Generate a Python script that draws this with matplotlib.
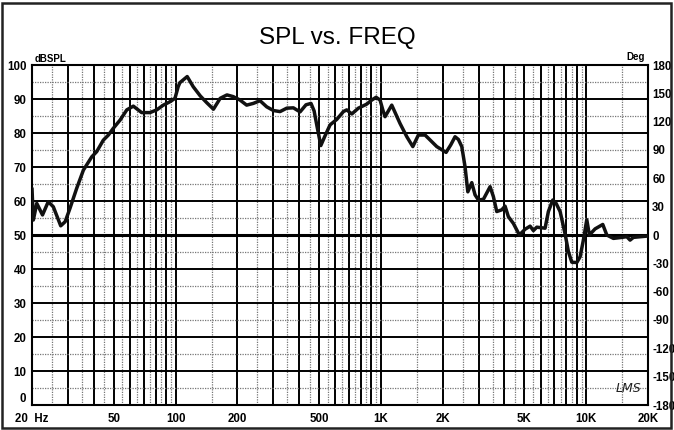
import numpy as np
import matplotlib
matplotlib.use("Agg")
import matplotlib.pyplot as plt
from matplotlib.patches import Rectangle

# SPL curve (Hz, dB SPL)
freq = [20, 20.3, 21.1, 22.5, 24.0, 25.4, 27.6, 29.0, 30.6, 33.0, 35.6, 39.1,
        41.3, 44.5, 47.1, 49.8, 53.7, 57.9, 62.3, 68.4, 75.1, 81.0, 87.2, 94.0,
        99.4, 103, 105, 114, 122, 132, 142, 153, 165, 178, 191, 206, 222, 239,
        258, 278, 300, 323, 348, 375, 404, 432, 457, 473, 489, 510, 535, 566,
        610, 657, 682, 722, 777, 854, 903, 948, 991, 1022, 1048, 1130, 1240,
        1338, 1431, 1523, 1642, 1872, 2078, 2190, 2298, 2386, 2478, 2570, 2652,
        2772, 2876, 2986, 3158, 3404, 3532, 3668, 3880, 4026, 4178, 4420, 4728,
        5040, 5332, 5532, 5746, 6306, 6544, 6878, 7138, 7464, 7894, 8192, 8510,
        9000, 9340, 9690, 10066, 10364, 11050, 12044, 12600, 13568, 14912,
        15770, 16360, 16980, 20000]
spl = [63.7, 54.4, 59.3, 55.9, 59.8, 58.3, 52.7, 53.9, 57.8, 63.7, 69.1, 73.0,
       74.5, 77.9, 79.4, 81.4, 83.8, 86.8, 87.9, 86.0, 86.0, 86.8, 88.2, 89.2,
       90.2, 93.6, 94.8, 96.6, 93.6, 90.9, 88.9, 87.0, 90.2, 91.2, 90.7, 89.7,
       88.2, 88.7, 89.5, 87.7, 86.6, 86.3, 87.3, 87.4, 86.2, 88.3, 88.7, 86.5,
       81.9, 76.3, 79.2, 82.4, 84.0, 86.3, 86.8, 85.6, 87.3, 88.5, 89.7, 90.5,
       89.7, 86.8, 84.8, 88.2, 82.8, 78.9, 76.0, 79.4, 79.4, 76.0, 74.3, 76.5,
       78.9, 78.1, 76.0, 70.1, 62.7, 65.4, 61.8, 60.3, 60.5, 64.2, 61.3, 56.9,
       57.4, 58.5, 55.4, 53.4, 50.0, 51.7, 52.6, 51.3, 52.3, 52.0, 56.9, 60.3,
       59.3, 56.9, 50.3, 45.1, 42.0, 41.9, 43.6, 48.5, 54.5, 50.0, 51.8, 53.1,
       50.0, 49.0, 49.3, 49.5, 48.5, 49.3, 49.7]

xtick_vals = [20, 50, 100, 200, 500, 1000, 2000, 5000, 10000, 20000]
xtick_text = ["20  Hz", "50", "100", "200", "500", "1K", "2K", "5K", "10K", "20K"]
db_ticks = list(range(0, 101, 10))
deg_ticks = list(range(-180, 181, 30))

lab_font = ["Liberation Sans Narrow", "Liberation Sans", "DejaVu Sans"]

fig = plt.figure(figsize=(6.74, 4.30), dpi=100)
ax = fig.add_axes([32/674, 25/430, 616/674, 340/430])

ax.set_xscale("log")
ax.set_xlim(20, 20000)
ax.set_ylim(0, 100)

# grid: solid at integer multiples, dotted at the halves
for dec in [10, 100, 1000, 10000]:
    for m in range(1, 10):
        f = m * dec
        if 20 < f < 20000:
            ax.axvline(f, color="black", lw=1.4, zorder=1)
        fh = (m + 0.5) * dec
        if 20 < fh < 20000:
            ax.axvline(fh, color="#777777", lw=0.9, ls=(0, (1, 1)), zorder=1)
for v in range(5, 100, 10):
    ax.axhline(v, color="#777777", lw=0.9, ls=(0, (1, 1)), zorder=1)
for v in range(10, 100, 10):
    ax.axhline(v, color="black", lw=2.2 if v == 50 else 1.4, zorder=1)

ax.plot(freq, spl, color="#111111", lw=2.5, solid_joinstyle="round",
        solid_capstyle="round", zorder=3)

for s in ax.spines.values():
    s.set_linewidth(1.5)

ax.set_xticks(xtick_vals)
ax.set_xticklabels(xtick_text)
ax.xaxis.set_minor_locator(matplotlib.ticker.NullLocator())
ax.set_yticks(db_ticks)
ax.tick_params(axis="y", length=0, pad=4)
ax.tick_params(axis="x", length=0, pad=6)
for t in ax.get_xticklabels() + ax.get_yticklabels():
    t.set_family(lab_font)
    t.set_fontsize(8.3)
    t.set_fontweight("bold")
# the bottom "0" sits just above the axis line, as in the original
ax.get_yticklabels()[0].set_va("bottom")

ax2 = ax.twinx()
ax2.set_ylim(-180, 180)
ax2.set_yticks(deg_ticks)
ax2.set_yticklabels([str(d) for d in deg_ticks])
ax2.tick_params(length=0, pad=3)
for t in ax2.get_yticklabels():
    t.set_family(lab_font)
    t.set_fontsize(8.3)
    t.set_fontweight("bold")
for s in ax2.spines.values():
    s.set_visible(False)

fig.text(0.5, 392/430, "SPL vs. FREQ", ha="center", va="center",
         fontsize=17.5, family=["Liberation Sans", "DejaVu Sans"])
fig.text(35/674, 371/430, "dBSPL", ha="left", va="center", fontsize=7,
         fontweight="bold", family=lab_font)
fig.text(645/674, 373/430, "Deg", ha="right", va="center", fontsize=7,
         fontweight="bold", family=lab_font)
fig.text(628/674, 42/430, "LMS", ha="center", va="center", fontsize=9,
         style="italic", family=["DejaVu Sans"], color="#222222")

fig.patches.append(Rectangle((2/674, 2/430), 669/674, 425/430, fill=False,
                             lw=1.8, edgecolor="#222222",
                             transform=fig.transFigure, figure=fig))

fig.savefig("out.png", dpi=100)
